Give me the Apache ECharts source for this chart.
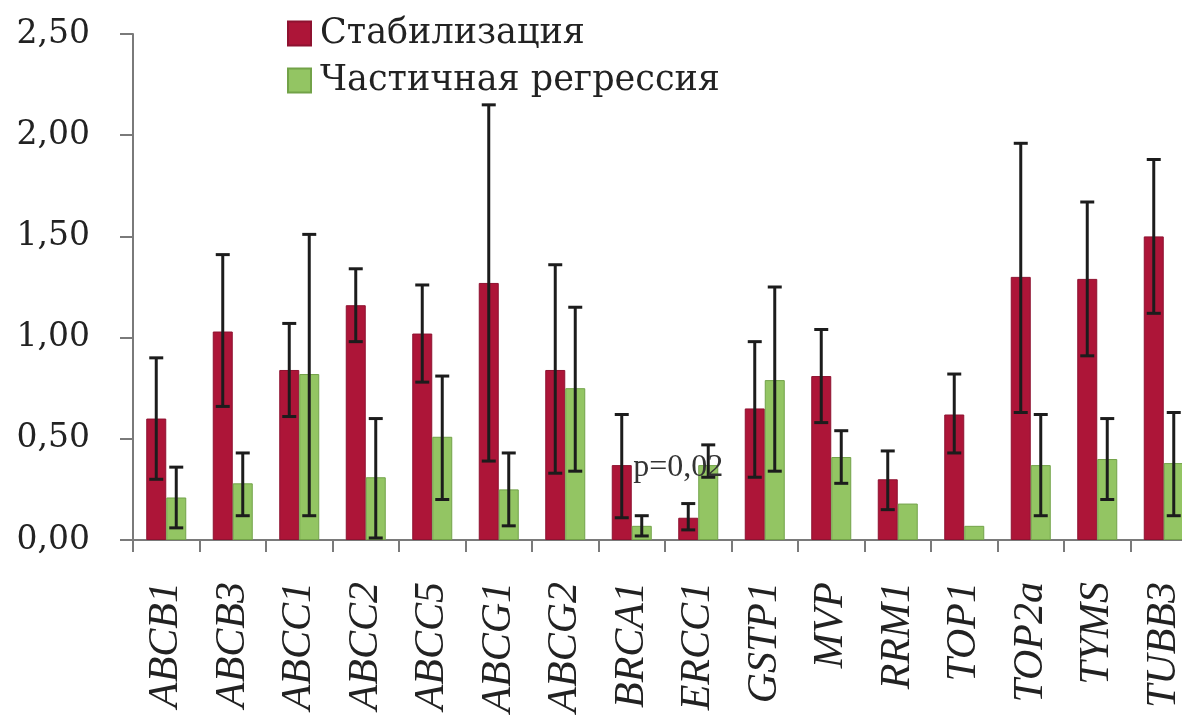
<!DOCTYPE html>
<html>
<head>
<meta charset="utf-8">
<script src="https://cdn.jsdelivr.net/npm/echarts@6/dist/echarts.min.js"></script>
<style>
html,body{margin:0;padding:0;background:#fff;overflow:hidden;width:1182px;height:716px;}
#chart{width:1200px;height:716px;}
</style>
</head>
<body>
<div id="chart"></div>
<script>
const categories = ['ABCB1','ABCB3','ABCC1','ABCC2','ABCC5','ABCG1','ABCG2','BRCA1','ERCC1','GSTP1','MVP','RRM1','TOP1','TOP2a','TYMS','TUBB3'];
const seriesNames = ['Стабилизация', 'Частичная регрессия'];
const stab     = [0.60, 1.03, 0.84, 1.16, 1.02, 1.27, 0.84, 0.37, 0.11, 0.65, 0.81, 0.30, 0.62, 1.30, 1.29, 1.50];
const stabLow  = [0.30, 0.66, 0.61, 0.98, 0.78, 0.39, 0.33, 0.11, 0.05, 0.31, 0.58, 0.15, 0.43, 0.63, 0.91, 1.12];
const stabHigh = [0.90, 1.41, 1.07, 1.34, 1.26, 2.15, 1.36, 0.62, 0.18, 0.98, 1.04, 0.44, 0.82, 1.96, 1.67, 1.88];
const regr     = [0.21, 0.28, 0.82, 0.31, 0.51, 0.25, 0.75, 0.07, 0.37, 0.79, 0.41, 0.18, 0.07, 0.37, 0.40, 0.38];
const regrLow  = [0.06, 0.12, 0.12, 0.01, 0.20, 0.07, 0.34, 0.02, 0.31, 0.34, 0.28, null, null, 0.12, 0.20, 0.12];
const regrHigh = [0.36, 0.43, 1.51, 0.60, 0.81, 0.43, 1.15, 0.12, 0.47, 1.25, 0.54, null, null, 0.62, 0.60, 0.63];
const yTicks = [0, 0.5, 1.0, 1.5, 2.0, 2.5];
const annotation = { category: 'ERCC1', value: 0.36, text: 'p=0,02' };

const BAR_W = 20;
const RED = '#AD1538', GREEN = '#93C563';

function errData(lo, hi) {
  const out = [];
  for (let i = 0; i < categories.length; i++) {
    if (lo[i] != null && hi[i] != null) out.push([i, lo[i], hi[i]]);
  }
  return out;
}
function errRender(offset) {
  return function (params, api) {
    const i = api.value(0);
    const p1 = api.coord([i, api.value(1)]);
    const p2 = api.coord([i, api.value(2)]);
    const x = p1[0] + offset;
    const cap = 7;
    const st = { stroke: '#1c1c1c', lineWidth: 3 };
    return {
      type: 'group',
      children: [
        { type: 'line', shape: { x1: x, y1: p1[1], x2: x, y2: p2[1] }, style: st },
        { type: 'line', shape: { x1: x - cap, y1: p1[1], x2: x + cap, y2: p1[1] }, style: st },
        { type: 'line', shape: { x1: x - cap, y1: p2[1], x2: x + cap, y2: p2[1] }, style: st }
      ]
    };
  };
}

const chart = echarts.init(document.getElementById('chart'), null, { renderer: 'canvas' });
const option = {
  animation: false,
  backgroundColor: '#ffffff',
  grid: { left: 133, top: 34, width: 1064, bottom: 176, containLabel: false },
  legend: {
    orient: 'vertical',
    left: 287, top: 16, padding: 0,
    itemWidth: 23, itemHeight: 24, itemGap: 12,
    icon: 'rect',
    data: seriesNames,
    textStyle: { fontFamily: 'DejaVu Serif', fontSize: 35, color: '#222', padding: [0, 0, 0, 4] }
  },
  xAxis: {
    type: 'category',
    data: categories,
    axisLine: { lineStyle: { color: '#7a7a7a', width: 2 } },
    axisTick: { show: true, length: 12, lineStyle: { color: '#7a7a7a', width: 2 } },
    axisLabel: {
      rotate: 90, margin: 42, interval: 0,
      fontFamily: 'Liberation Serif', fontStyle: 'italic', fontSize: 42, color: '#222'
    },
    splitLine: { show: false }
  },
  yAxis: {
    type: 'value',
    min: 0, max: 2.5, interval: 0.5,
    axisLine: { show: true, lineStyle: { color: '#7a7a7a', width: 2 } },
    axisTick: { show: true, length: 13, lineStyle: { color: '#7a7a7a', width: 2 } },
    axisLabel: {
      margin: 43,
      fontFamily: 'DejaVu Serif', fontSize: 33, color: '#222',
      formatter: v => v.toFixed(2).replace('.', ',')
    },
    splitLine: { show: false }
  },
  series: [
    {
      name: seriesNames[0], type: 'bar', data: stab, barWidth: BAR_W, barGap: '0%',
      itemStyle: { color: RED, borderColor: '#8E1230', borderWidth: 1 }
    },
    {
      name: seriesNames[1], type: 'bar', data: regr, barWidth: BAR_W, barGap: '0%',
      itemStyle: { color: GREEN, borderColor: '#72A248', borderWidth: 1 },
      markPoint: {
        symbol: 'rect', symbolSize: 0,
        data: [{ coord: [annotation.category, annotation.value], value: annotation.text }],
        label: {
          show: true, formatter: annotation.text, offset: [-30, 0],
          fontFamily: 'Liberation Serif', fontSize: 32, color: '#333'
        },
        z: 20
      }
    },
    {
      name: 'errStab', type: 'custom', data: errData(stabLow, stabHigh),
      renderItem: errRender(-BAR_W / 2), z: 10, silent: true
    },
    {
      name: 'errRegr', type: 'custom', data: errData(regrLow, regrHigh),
      renderItem: errRender(BAR_W / 2), z: 10, silent: true
    }
  ]
};
chart.setOption(option);
</script>
</body>
</html>
